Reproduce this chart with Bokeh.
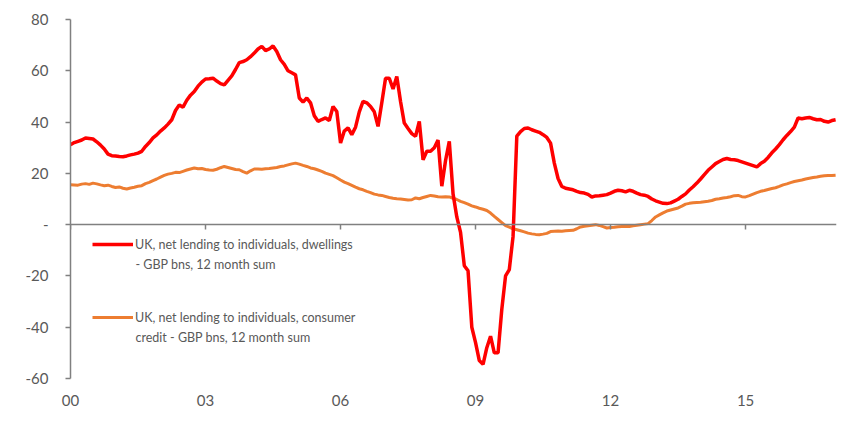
from bokeh.plotting import figure
from bokeh.models import (Range1d, FixedTicker, LinearAxis, Legend, LegendItem,
                          ColumnDataSource, Label)
from bokeh.embed import file_html
from bokeh.resources import INLINE

# ---------------- data (monthly, Jan 2000 .. Jan 2017) ----------------
start_year = 2000
dwellings = [
    # 2000
    31.2, 32.0, 32.5, 33.0, 33.8, 33.6, 33.4, 32.3, 31.0, 29.5, 27.5, 26.9,
    # 2001
    26.8, 26.6, 26.5, 26.8, 27.2, 27.5, 27.9, 28.6, 30.5, 32.0, 33.8, 35.0,
    # 2002
    36.5, 37.7, 39.2, 40.9, 44.5, 46.7, 45.8, 48.5, 50.5, 51.9, 54.0, 55.6,
    # 2003
    56.8, 56.9, 57.1, 56.0, 55.0, 54.5, 56.3, 58.0, 60.5, 63.2, 63.6, 64.3,
    # 2004
    65.5, 66.9, 68.5, 69.5, 67.9, 68.5, 69.7, 67.5, 64.3, 62.5, 60.0, 59.2,
    # 2005
    58.4, 49.4, 47.8, 49.4, 47.5, 42.5, 40.3, 41.0, 41.6, 40.6, 46.1, 44.1,
    # 2006
    31.8, 36.5, 37.7, 35.1, 38.0, 44.0, 48.1, 47.5, 46.1, 44.0, 38.3, 47.5,
    # 2007
    57.1, 57.1, 52.9, 57.8, 48.0, 39.6, 37.5, 35.5, 34.4, 40.3, 25.3, 28.6,
    # 2008
    28.6, 30.0, 33.0, 15.0, 25.0, 32.5, 12.0, 3.0, -3.0, -16.0, -18.0, -40.0,
    # 2009
    -46.0, -53.0, -54.5, -48.0, -43.5, -50.0, -50.0, -33.0, -20.0, -17.5, -4.6, 34.5,
    # 2010
    36.3, 37.5, 37.7, 37.0, 36.5, 36.0, 35.1, 34.0, 31.8, 24.0, 18.0, 14.9,
    # 2011
    14.2, 13.9, 13.6, 13.0, 12.5, 12.3, 11.8, 10.8, 11.2, 11.3, 11.5, 11.7,
    # 2012
    12.3, 13.0, 13.4, 13.2, 12.8, 13.4, 13.0, 12.3, 11.7, 11.5, 11.0, 10.0,
    # 2013
    9.3, 8.8, 8.3, 8.2, 8.5, 9.2, 9.9, 11.0, 12.0, 13.5, 14.8, 16.2,
    # 2014
    17.8, 19.5, 21.2, 22.5, 23.8, 24.6, 25.4, 25.8, 25.4, 25.3, 25.0, 24.5,
    # 2015
    24.0, 23.5, 23.0, 22.5, 23.8, 24.7, 26.2, 28.0, 29.5, 31.2, 33.1, 34.8,
    # 2016
    36.3, 38.0, 41.6, 41.3, 41.6, 41.8, 41.3, 40.9, 41.0, 40.3, 40.0, 40.6,
    # 2017
    40.9,
]
consumer_credit = [
    # 2000
    15.6, 15.5, 15.4, 15.8, 16.0, 15.7, 16.2, 15.9, 15.5, 15.2, 15.4, 14.9,
    # 2001
    14.5, 14.7, 14.2, 13.9, 14.3, 14.6, 15.0, 15.2, 16.0, 16.5, 17.2, 17.8,
    # 2002
    18.5, 19.2, 19.7, 20.0, 20.4, 20.3, 20.8, 21.3, 21.7, 22.1, 21.8, 21.9,
    # 2003
    21.5, 21.3, 21.2, 21.6, 22.2, 22.7, 22.3, 21.9, 21.5, 21.4, 20.7, 20.1,
    # 2004
    21.0, 21.7, 21.7, 21.6, 21.8, 21.9, 22.1, 22.3, 22.7, 22.9, 23.3, 23.7,
    # 2005
    24.0, 23.6, 23.1, 22.7, 22.1, 21.8, 21.3, 20.8, 20.1, 19.6, 19.1, 18.3,
    # 2006
    17.4, 16.6, 16.0, 15.3, 14.6, 14.0, 13.6, 13.0, 12.5, 11.9, 11.6, 11.4,
    # 2007
    11.0, 10.6, 10.3, 10.1, 10.0, 9.8, 9.6, 9.7, 10.4, 10.1, 10.6, 11.0,
    # 2008
    11.4, 11.2, 10.9, 10.8, 10.9, 10.8, 10.3, 9.8, 9.1, 8.6, 8.0, 7.3,
    # 2009
    6.9, 6.4, 6.0, 5.5, 4.5, 3.2, 2.0, 0.8, -0.4, -1.0, -1.6, -2.0,
    # 2010
    -2.4, -2.8, -3.3, -3.6, -3.8, -3.9, -3.7, -3.4, -2.7, -2.6, -2.5, -2.6,
    # 2011
    -2.4, -2.3, -2.2, -1.6, -0.9, -0.6, -0.4, -0.2, 0.0, -0.3, -0.8, -1.3,
    # 2012
    -1.1, -1.0, -0.8, -0.7, -0.6, -0.7, -0.4, -0.2, 0.0, 0.2, 0.4, 1.6,
    # 2013
    3.0, 3.8, 4.6, 5.3, 5.7, 6.1, 6.5, 7.2, 8.0, 8.3, 8.5, 8.6,
    # 2014
    8.7, 8.9, 9.1, 9.4, 9.9, 10.1, 10.4, 10.6, 10.9, 11.3, 11.4, 10.9,
    # 2015
    10.8, 11.3, 11.9, 12.5, 13.0, 13.3, 13.7, 14.1, 14.4, 14.9, 15.5, 15.9,
    # 2016
    16.4, 16.8, 17.1, 17.4, 17.8, 18.1, 18.4, 18.6, 18.9, 19.1, 19.2, 19.2,
    # 2017
    19.3,
]
series_labels_line1 = [
    "UK, net lending to individuals, dwellings",
    "UK, net lending to individuals, consumer",
]
series_labels_line2 = [
    "- GBP bns, 12 month sum",
    "credit - GBP bns, 12 month sum",
]
x_tick_years = [2000, 2003, 2006, 2009, 2012, 2015]
x_tick_labels = ["00", "03", "06", "09", "12", "15"]
y_ticks = [-60, -40, -20, 0, 20, 40, 60, 80]
y_tick_labels = ["-60", "-40", "-20", "-", "20", "40", "60", "80"]

# ---------------- build ----------------
dates = [start_year + i / 12.0 for i in range(len(dwellings))]
src = ColumnDataSource(dict(x=dates, dw=dwellings, cc=consumer_credit))

FONT = "Lato"
TXT = "#595959"
AXC = "#808080"
LEG_SIZE = "12.5px"

p = figure(width=849, height=419, output_backend="svg", toolbar_location=None,
           x_range=Range1d(2000, 2017.02), y_range=Range1d(-60, 80),
           min_border_left=70, min_border_right=13, min_border_top=19,
           min_border_bottom=41)
p.outline_line_color = None
p.grid.grid_line_color = None
p.background_fill_color = "white"

# bottom axis: labels only
xa = p.xaxis[0]
xa.ticker = FixedTicker(ticks=x_tick_years)
xa.major_label_overrides = dict(zip(x_tick_years, x_tick_labels))
xa.axis_line_color = None
xa.major_tick_line_color = None
xa.minor_tick_line_color = None
xa.major_tick_out = 0
xa.major_tick_in = 0
xa.major_label_standoff = 16
xa.major_label_text_font = FONT
xa.major_label_text_font_size = "15px"
xa.major_label_text_color = TXT

# zero-line axis with tick marks
za = LinearAxis(fixed_location=0, ticker=FixedTicker(ticks=x_tick_years))
za.axis_line_color = AXC
za.axis_line_width = 1.5
za.major_tick_line_color = AXC
za.major_tick_line_width = 1.5
za.major_tick_out = 5
za.major_tick_in = 0
za.minor_tick_line_color = None
za.major_label_text_color = None
p.add_layout(za, "below")

ya = p.yaxis[0]
ya.ticker = FixedTicker(ticks=y_ticks)
ya.major_label_overrides = dict(zip(y_ticks, y_tick_labels))
ya.axis_line_color = AXC
ya.axis_line_width = 1.5
ya.major_tick_line_color = AXC
ya.major_tick_line_width = 1.5
ya.major_tick_out = 5
ya.major_tick_in = 0
ya.minor_tick_line_color = None
ya.major_label_standoff = 17
ya.major_label_text_font = FONT
ya.major_label_text_font_size = "15px"
ya.major_label_text_color = TXT

r2 = p.line("x", "cc", source=src, line_color="#ED7D31", line_width=3)
r1 = p.line("x", "dw", source=src, line_color="#FF0000", line_width=3.5)

legend = Legend(items=[LegendItem(label=series_labels_line1[0], renderers=[r1]),
                       LegendItem(label=series_labels_line1[1], renderers=[r2])],
                location=(22, 51), orientation="vertical")
legend.label_text_font = FONT
legend.label_text_font_size = LEG_SIZE
legend.label_text_color = TXT
legend.label_standoff = 2
legend.glyph_width = 41
legend.glyph_height = 20
legend.label_height = 20
legend.spacing = 53
legend.padding = 0
legend.margin = 0
legend.border_line_color = None
legend.background_fill_alpha = 0
p.add_layout(legend)

# second lines of the legend labels (screen units, from frame bottom-left)
for txt, yoff in zip(series_labels_line2, [114, 41]):
    p.add_layout(Label(x=65, y=yoff, x_units="screen", y_units="screen",
                       text=txt, text_font=FONT, text_font_size=LEG_SIZE,
                       text_color=TXT, text_baseline="alphabetic"))

open("out.html", "w").write(file_html(p, INLINE))
